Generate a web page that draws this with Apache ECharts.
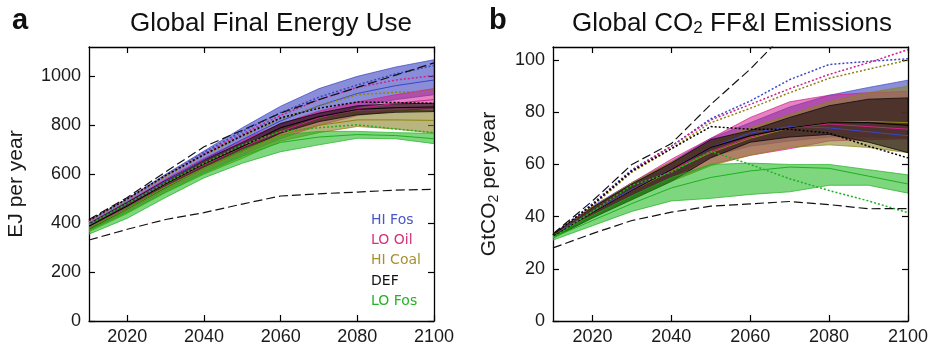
<!DOCTYPE html>
<html><head><meta charset="utf-8">
<script src="https://cdn.jsdelivr.net/npm/echarts@6/dist/echarts.min.js"></script>
<style>html,body{margin:0;padding:0;background:#fff}#c{width:935px;height:347px}</style>
</head><body><div id="c"></div>
<script>
// ---------- data ----------
var years = [2010, 2020, 2030, 2040, 2050, 2060, 2070, 2080, 2090, 2100];
var xTicks = [2020, 2040, 2060, 2080, 2100];
var yTicksA = [0, 200, 400, 600, 800, 1000];
var yTicksB = [0, 20, 40, 60, 80, 100];
var scenarios = ['HI Fos', 'LO Oil', 'HI Coal', 'DEF', 'LO Fos'];

// Panel a: Global Final Energy Use (EJ per year)
var aDashHigh = [415, 505, 610, 712, 780, 850, 905, 955, 1005, 1055];
var aDashLow  = [331, 375, 415, 443, 478, 511, 520, 527, 535, 538];
var aHiFosLow = [378, 458, 545, 625, 700, 768, 830, 875, 905, 925];
var aHiFosHigh= [410, 500, 600, 695, 790, 878, 950, 1000, 1038, 1068];
var aHiFosMid = [393, 480, 572, 660, 742, 818, 880, 930, 962, 985];
var aHiFosDot = [405, 495, 595, 690, 775, 852, 915, 965, 1010, 1045];
var aLoOilLow = [372, 450, 535, 610, 680, 745, 800, 840, 858, 870];
var aLoOilHigh= [400, 488, 580, 665, 740, 805, 858, 895, 925, 950];
var aLoOilMid = [385, 468, 558, 638, 710, 775, 830, 868, 890, 905];
var aLoOilDot = [408, 498, 595, 685, 765, 840, 905, 955, 985, 1003];
var aHiCoalLow = [365, 440, 525, 600, 665, 735, 770, 795, 785, 768];
var aHiCoalHigh= [395, 480, 568, 650, 720, 785, 830, 855, 860, 862];
var aHiCoalMid = [380, 460, 548, 625, 695, 760, 800, 822, 822, 820];
var aHiCoalDot = [405, 495, 590, 678, 755, 825, 880, 925, 935, 940];
var aDefLow = [375, 458, 545, 625, 695, 768, 815, 843, 853, 856];
var aDefHigh= [398, 485, 575, 658, 730, 808, 850, 880, 888, 890];
var aDefMid = [387, 470, 560, 642, 713, 790, 835, 865, 872, 875];
var aDefDot = [412, 500, 595, 680, 758, 830, 870, 895, 893, 890];
var aLoFosLow = [355, 420, 505, 585, 645, 692, 720, 747, 745, 725];
var aLoFosHigh= [385, 465, 550, 625, 700, 760, 775, 775, 770, 767];
var aLoFosMid = [370, 445, 528, 605, 675, 730, 752, 762, 758, 745];
var aLoFosDot = [395, 480, 565, 645, 720, 775, 790, 802, 785, 770];

// Panel b: Global CO2 FF&I Emissions (GtCO2 per year)
var bDashHigh = [33.4, 46, 60, 68, 83, 96.5, 112, 125, 135, 145];
var bDashLow  = [28, 33.5, 38.5, 41.7, 44, 44.9, 45.8, 44.6, 43, 43.1];
var bHiFosLow = [32, 40, 47.5, 55, 63, 67, 69, 70.5, 70.5, 70];
var bHiFosHigh= [33.5, 44, 53, 61, 70, 76, 82, 86.5, 89.5, 92.3];
var bHiFosMid = [32.8, 42, 50.5, 58, 66.5, 72, 74.5, 74, 72.5, 71];
var bHiFosDot = [33, 45, 58, 67, 77.5, 84.3, 92.5, 98.3, 99.5, 100.5];
var bLoOilLow = [32, 39.5, 47, 54, 60, 63.5, 66, 69, 69.5, 69.8];
var bLoOilHigh= [33.5, 43.5, 53, 62, 70, 78, 84, 86.5, 87.5, 88];
var bLoOilMid = [32.5, 41.5, 50, 58, 65, 70.5, 74, 75.5, 74.5, 73.5];
var bLoOilDot = [33, 44.5, 57.5, 67, 77, 83, 89, 94.5, 99, 104];
var bHiCoalLow = [32, 39.5, 46.5, 53.5, 59.5, 63.5, 66.5, 67.5, 66.5, 64.5];
var bHiCoalHigh= [33.5, 43.5, 53, 61, 68.5, 74, 79, 84, 87.5, 90];
var bHiCoalMid = [32.5, 41.5, 50, 57.5, 64.5, 70, 74, 76, 76.5, 76];
var bHiCoalDot = [33, 44, 57, 66, 76, 81.5, 87.5, 93, 96.5, 100];
var bDefLow = [31.8, 39.5, 46.5, 53.5, 62.5, 68.5, 70.5, 71.5, 68.5, 64.5];
var bDefHigh= [33.3, 43.5, 52.5, 60.5, 69.5, 73, 78, 82.5, 85, 85.5];
var bDefMid = [32.5, 41.5, 50, 58, 66.5, 71, 74, 76, 76, 75];
var bDefDot = [33, 44.5, 57.5, 66, 74.5, 73.5, 73.5, 72, 67, 62.5];
var bLoFosLow = [31, 36.5, 42, 46, 47, 48.5, 49.5, 52, 52, 49];
var bLoFosHigh= [33, 40.5, 48, 55, 60, 60.5, 60, 60, 58, 56];
var bLoFosMid = [32, 38.5, 45, 51, 55, 57.5, 59, 58.5, 55.5, 52.5];
var bLoFosDot = [32, 42, 52, 57, 65, 60, 54.5, 50, 46, 41.5];

// ---------- styles ----------
var lineColors = {'HI Fos':'#3a46c8','LO Oil':'#d0208a','HI Coal':'#8c8410','DEF':'#000000','LO Fos':'#20b020'};
var fillColors = {'HI Fos':'rgba(60,65,190,0.6)','LO Oil':'rgba(210,30,140,0.55)','HI Coal':'rgba(140,130,40,0.6)','DEF':'rgba(30,15,15,0.62)','LO Fos':'rgba(20,180,20,0.55)'};
var legendColors = {'HI Fos':'#4a56c6','LO Oil':'#d6307a','HI Coal':'#a89030','DEF':'#111111','LO Fos':'#22b422'};

function pts(arr){ return years.map(function(y,i){ return [y, arr[i]]; }); }

var series = [];
function band(name, idx, lo, hi){
  series.push({name:name, type:'custom', xAxisIndex:idx, yAxisIndex:idx, silent:true, clip:true, z:2,
    data:[[years[0], lo[0]]],
    renderItem:function(params, api){
      var p = [];
      for (var i = 0; i < years.length; i++) p.push(api.coord([years[i], hi[i]]));
      for (var j = years.length - 1; j >= 0; j--) p.push(api.coord([years[j], lo[j]]));
      return {type:'polygon', shape:{points:p},
        style:{fill:fillColors[name], stroke:lineColors[name], lineWidth:0.7, opacity:1}};
    }});
}
function line(name, idx, arr, type, width, color, z){
  series.push({name:name, type:'line', xAxisIndex:idx, yAxisIndex:idx, data:pts(arr), symbol:'none', silent:true,
    clip:true, lineStyle:{color:color || lineColors[name], width:width, type:type}, z:z||3});
}

var A = {
  'HI Fos':[aHiFosLow,aHiFosHigh,aHiFosMid,aHiFosDot],
  'LO Oil':[aLoOilLow,aLoOilHigh,aLoOilMid,aLoOilDot],
  'HI Coal':[aHiCoalLow,aHiCoalHigh,aHiCoalMid,aHiCoalDot],
  'DEF':[aDefLow,aDefHigh,aDefMid,aDefDot],
  'LO Fos':[aLoFosLow,aLoFosHigh,aLoFosMid,aLoFosDot]
};
var B = {
  'HI Fos':[bHiFosLow,bHiFosHigh,bHiFosMid,bHiFosDot],
  'LO Oil':[bLoOilLow,bLoOilHigh,bLoOilMid,bLoOilDot],
  'HI Coal':[bHiCoalLow,bHiCoalHigh,bHiCoalMid,bHiCoalDot],
  'DEF':[bDefLow,bDefHigh,bDefMid,bDefDot],
  'LO Fos':[bLoFosLow,bLoFosHigh,bLoFosMid,bLoFosDot]
};
[[A,0],[B,1]].forEach(function(p){
  var D=p[0], idx=p[1];
  scenarios.forEach(function(s){ band(s, idx, D[s][0], D[s][1]); });
  scenarios.forEach(function(s){ line(s, idx, D[s][2], 'solid', 1); });
  scenarios.forEach(function(s){ line(s, idx, D[s][3], [2,2], 1.5, null, 4); });
});
line('range', 0, aDashHigh, [9,4], 1.2, '#111', 5);
line('range', 0, aDashLow, [9,4], 1.2, '#111', 5);
line('range', 1, bDashHigh, [9,4], 1.2, '#111', 5);
line('range', 1, bDashLow, [9,4], 1.2, '#111', 5);

var FONT = '"Liberation Sans", Arial, sans-serif';
var axisLine = {show:true, onZero:false, lineStyle:{color:'#000', width:1.3}};
function fmt(v){ return String(v); }
function xAx(grid, pos, labels){
  return {type:'value', gridIndex:grid, position:pos, min:2010, max:2100,
    axisLine:axisLine, splitLine:{show:false},
    axisTick:{show:true, inside:true, length:6, customValues:xTicks, lineStyle:{color:'#000', width:1.2}},
    axisLabel:{show:labels, customValues:xTicks, formatter:fmt, margin:7, fontSize:18, color:'#1a1a1a', fontFamily:FONT}};
}
function yAx(grid, pos, labels, max, ticks, name){
  return {type:'value', gridIndex:grid, position:pos, min:0, max:max,
    name: labels ? name : '', nameLocation:'middle', nameGap: grid===0 ? 62 : 52,
    nameTextStyle:{fontSize:21, color:'#1a1a1a', fontFamily:FONT, rich:{s:{fontSize:14, color:'#1a1a1a', fontFamily:FONT, padding:[9,0,0,0]}}},
    axisLine:axisLine, splitLine:{show:false},
    axisTick:{show:true, inside:true, length:6, customValues:ticks, lineStyle:{color:'#000', width:1.2}},
    axisLabel:{show:labels, customValues:ticks, formatter:fmt, margin:8, fontSize:18, color:'#1a1a1a', fontFamily:FONT}};
}

var chart = echarts.init(document.getElementById('c'), null, {renderer:'canvas'});
var legendText = scenarios.map(function(s, i){
  return {type:'text', left:371, top:213 + i*20.3, silent:true,
    style:{text:s, fill:legendColors[s], font:'14px "DejaVu Sans", Verdana, sans-serif'}};
});
chart.setOption({
  animation:false,
  backgroundColor:'#fff',
  title:[
    {text:'Global Final Energy Use', left:266, top:6, textAlign:'center',
      textStyle:{fontSize:26, fontWeight:'normal', color:'#111', fontFamily:FONT}},
    {text:'Global CO{s|2} FF&I Emissions', left:727, top:6, textAlign:'center',
      textStyle:{fontSize:26, fontWeight:'normal', color:'#111', fontFamily:FONT,
        rich:{s:{fontSize:17, color:'#111', fontFamily:FONT, padding:[9,0,0,0]}}}},
    {text:'a', left:7, top:1, textStyle:{fontSize:29, fontWeight:'bold', color:'#111', fontFamily:FONT}},
    {text:'b', left:484, top:1, textStyle:{fontSize:29, fontWeight:'bold', color:'#111', fontFamily:FONT}}
  ],
  grid:[
    {left:89, right:501, top:47, bottom:26, containLabel:false},
    {left:553, right:27, top:47, bottom:26, containLabel:false}
  ],
  xAxis:[xAx(0,'bottom',true), xAx(1,'bottom',true), xAx(0,'top',false), xAx(1,'top',false)],
  yAxis:[yAx(0,'left',true,1120,yTicksA,'EJ per year'), yAx(1,'left',true,105,yTicksB,'GtCO{s|2} per year'),
         yAx(0,'right',false,1120,yTicksA,''), yAx(1,'right',false,105,yTicksB,'')],
  graphic: legendText,
  series: series
});
</script></body></html>
